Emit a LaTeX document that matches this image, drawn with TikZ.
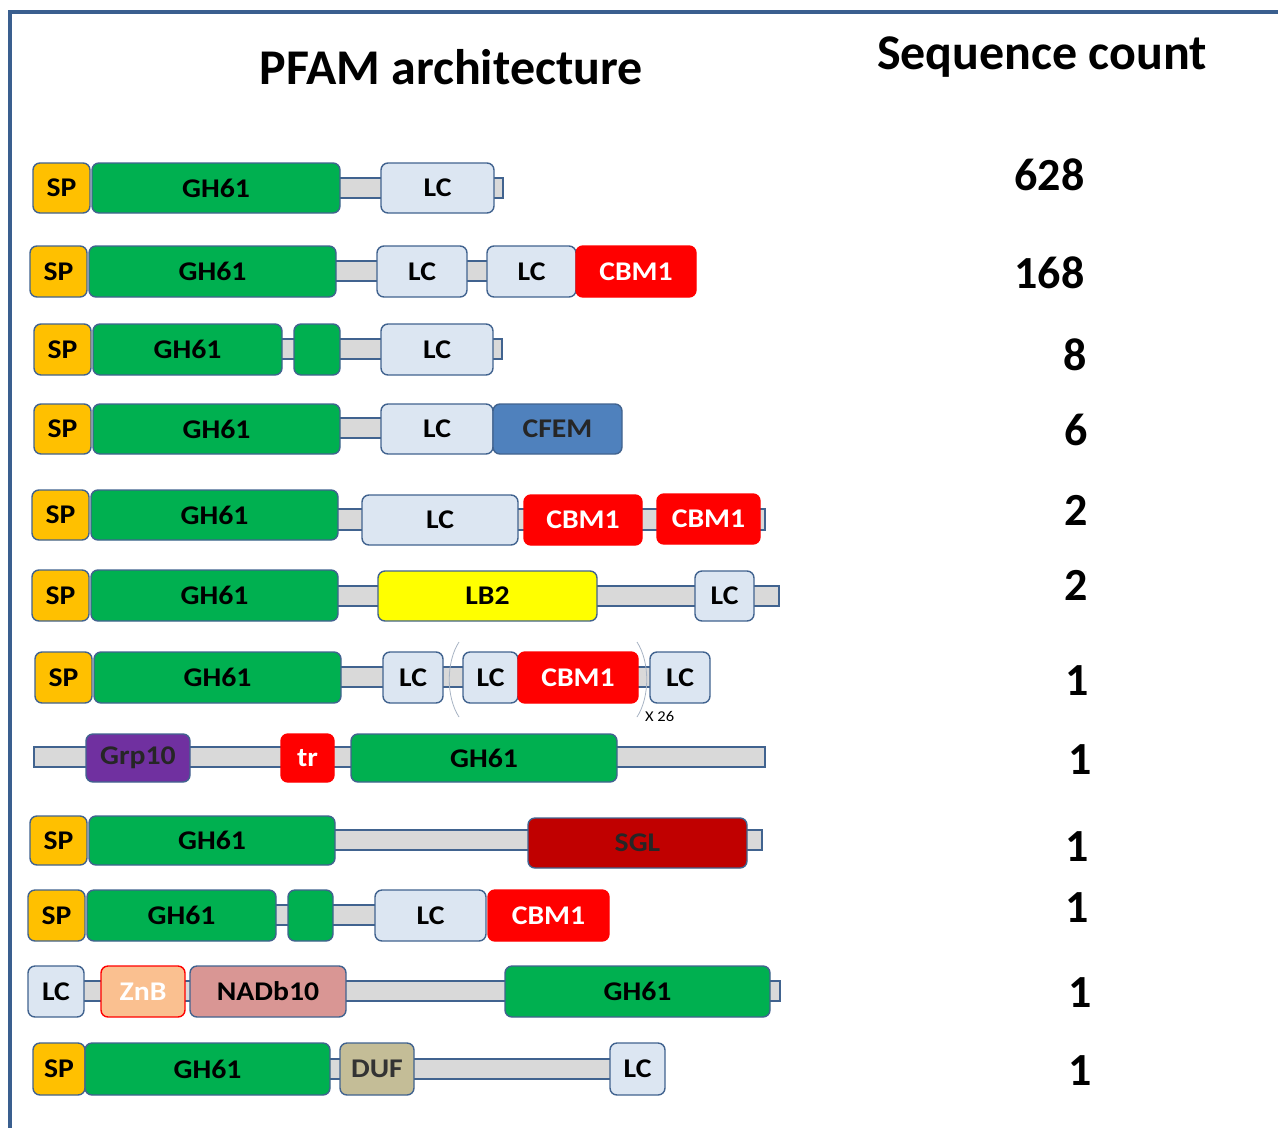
\documentclass[tikz,border=0pt]{standalone}
\usepackage{fontspec}
\setmainfont{Carlito}
\newfontfamily\labfont{Carlito}[FakeStretch=1.1]
\definecolor{frameblue}{HTML}{3A5F8F}
\definecolor{edge}{HTML}{41638F}
\definecolor{cSP}{HTML}{FFC000}
\definecolor{cGH}{HTML}{00B050}
\definecolor{cLC}{HTML}{DCE6F2}
\definecolor{cCBM}{HTML}{FF0000}
\definecolor{cCFEM}{HTML}{4F81BD}
\definecolor{cLB}{HTML}{FFFF00}
\definecolor{cGrp}{HTML}{7030A0}
\definecolor{cSGL}{HTML}{C00000}
\definecolor{cZnB}{HTML}{FAC090}
\definecolor{cNAD}{HTML}{D99694}
\definecolor{cDUF}{HTML}{C4BD97}
\definecolor{cBar}{HTML}{D9D9D9}
\definecolor{paren}{HTML}{A8B4C4}
\newcommand\dbox[7]{\node[#2, minimum width={(#4)-(#3)}, minimum height={(#6)-(#5)}] (#1) at ({((#3)+(#4))/2},{((#5)+(#6))/2}) {#7};}
\begin{document}
\begin{tikzpicture}[x=1pt,y=-1pt,
  dom/.style={draw=edge, line width=1.4pt, rounded corners=7pt, inner sep=0pt, outer sep=0pt,
     font=\labfont\fontsize{27}{27}\selectfont\bfseries, text=black},
  bar/.style={draw=edge, line width=1.2pt, fill=cBar, inner sep=0pt, outer sep=0pt},
  sp/.style={dom, fill=cSP},
  gh/.style={dom, fill=cGH},
  lc/.style={dom, fill=cLC},
  cbm/.style={dom, fill=cCBM, draw=cCBM, text=white},
  cfem/.style={dom, fill=cCFEM, text=black!85},
  lb/.style={dom, fill=cLB},
  grp/.style={dom, fill=cGrp, text=black!85},
  trd/.style={dom, fill=cCBM, draw=cCBM, text=white},
  sgl/.style={dom, fill=cSGL, text=black!85},
  znb/.style={dom, fill=cZnB, draw=cCBM, text=white},
  nad/.style={dom, fill=cNAD},
  duf/.style={dom, fill=cDUF, text=black!80},
  count/.style={anchor=east, font=\fontsize{46}{46}\selectfont\bfseries},
  title/.style={font=\fontsize{50}{50}\selectfont\bfseries}]
\useasboundingbox (0,0) rectangle (1278,1128);
\fill[white] (0,0) rectangle (1278,1128);
% frame
\coordinate (fTR) at (1278,12);
\coordinate (fTL) at (10,12);
\coordinate (fBL) at (10,1128);
\draw[frameblue, line width=3.5pt] (fTR) -- (fTL) -- (fBL);
% titles
\node[title] (tPfam) at (451,67) {PFAM architecture};
\node[title] (tSeq) at (1042,57) {Sequence count};
% Row 1
\dbox{r1bar}{bar}{335}{503}{178}{198}{}
\dbox{r1sp}{sp}{33}{90}{163}{213}{SP}
\dbox{r1gh}{gh}{92}{340}{163}{213}{GH61}
\dbox{r1lc}{lc}{381}{494}{163}{213}{LC}
\node[count] (c1) at (1088,175) {628};
% Row 2
\dbox{r2bar}{bar}{330}{580}{261}{281}{}
\dbox{r2sp}{sp}{30}{87}{246}{297}{SP}
\dbox{r2gh}{gh}{89}{336}{246}{297}{GH61}
\dbox{r2lca}{lc}{377}{467}{246}{297}{LC}
\dbox{r2lcb}{lc}{487}{576}{246}{297}{LC}
\dbox{r2cbm}{cbm}{576}{696}{246}{297}{CBM1}
\node[count] (c2) at (1088,273) {168};
% Row 3
\dbox{r3bar}{bar}{278}{502}{339}{359}{}
\dbox{r3sp}{sp}{34}{91}{324}{375}{SP}
\dbox{r3gh}{gh}{93}{282}{324}{375}{GH61}
\dbox{r3ghb}{gh}{294}{340}{324}{375}{}
\dbox{r3lc}{lc}{381}{493}{324}{375}{LC}
\node[count] (c3) at (1090,355) {8};
% Row 4
\dbox{r4bar}{bar}{335}{386}{418}{438}{}
\dbox{r4sp}{sp}{34}{91}{404}{454}{SP}
\dbox{r4gh}{gh}{93}{340}{404}{454}{GH61}
\dbox{r4lc}{lc}{381}{493}{404}{454}{LC}
\dbox{r4cfem}{cfem}{493}{622}{404}{454}{CFEM}
\node[count] (c4) at (1091,430) {6};
% Row 5
\dbox{r5bar}{bar}{334}{765}{509}{530}{}
\dbox{r5sp}{sp}{32}{89}{490}{540}{SP}
\dbox{r5gh}{gh}{91}{338}{490}{540}{GH61}
\dbox{r5lc}{lc}{362}{518}{495}{545}{LC}
\dbox{r5cbma}{cbm}{524}{642}{495}{545}{CBM1}
\dbox{r5cbmb}{cbm}{657}{760}{494}{544}{CBM1}
\node[count] (c5) at (1091,510) {2};
% Row 6
\dbox{r6bar}{bar}{334}{779}{586}{606}{}
\dbox{r6sp}{sp}{32}{89}{570}{621}{SP}
\dbox{r6gh}{gh}{91}{338}{570}{621}{GH61}
\dbox{r6lb}{lb}{378}{597}{571}{621}{LB2}
\dbox{r6lc}{lc}{695}{754}{571}{621}{LC}
\node[count] (c6) at (1091,585) {2};
% Row 7
\dbox{r7bar}{bar}{337}{655}{667}{687}{}
\dbox{r7sp}{sp}{35}{92}{652}{703}{SP}
\dbox{r7gh}{gh}{94}{341}{652}{703}{GH61}
\dbox{r7lca}{lc}{383}{443}{652}{703}{LC}
\dbox{r7lcb}{lc}{463}{518}{652}{703}{LC}
\dbox{r7cbm}{cbm}{518}{638}{652}{703}{CBM1}
\dbox{r7lcc}{lc}{650}{710}{652}{703}{LC}
\coordinate (pLa) at (459,642);
\coordinate (pLb) at (459,717);
\coordinate (pRa) at (637,642);
\coordinate (pRb) at (637,717);
\draw[paren, line width=0.8pt] (pLa) .. controls (446,662) and (446,697) .. (pLb);
\draw[paren, line width=0.8pt] (pRa) .. controls (650,662) and (650,697) .. (pRb);
\node[font=\labfont\fontsize{15}{15}\selectfont, anchor=west, inner sep=0pt] (x26) at (645,716) {X 26};
\node[count] (c7) at (1092,681) {1};
% Row 8
\dbox{r8bar}{bar}{34}{765}{747}{767}{}
\dbox{r8grp}{grp}{86}{190}{734}{782}{Grp10}
\dbox{r8tr}{trd}{281}{334}{734}{782}{tr}
\dbox{r8gh}{gh}{351}{617}{734}{782}{GH61}
\node[count] (c8) at (1095,760) {1};
% Row 9
\dbox{r9bar}{bar}{330}{762}{830}{850}{}
\dbox{r9sp}{sp}{30}{87}{816}{865}{SP}
\dbox{r9gh}{gh}{89}{335}{816}{865}{GH61}
\dbox{r9sgl}{sgl}{528}{747}{818}{868}{SGL}
\node[count] (c9) at (1092,847) {1};
% Row 10
\dbox{r10bar}{bar}{271}{380}{905}{925}{}
\dbox{r10sp}{sp}{28}{85}{890}{941}{SP}
\dbox{r10gh}{gh}{87}{276}{890}{941}{GH61}
\dbox{r10ghb}{gh}{288}{333}{890}{941}{}
\dbox{r10lc}{lc}{375}{486}{890}{941}{LC}
\dbox{r10cbm}{cbm}{488}{609}{890}{941}{CBM1}
\node[count] (c10) at (1092,908) {1};
% Row 11
\dbox{r11bar}{bar}{80}{780}{981}{1001}{}
\dbox{r11lc}{lc}{28}{84}{966}{1017}{LC}
\dbox{r11znb}{znb}{101}{185}{966}{1017}{ZnB}
\dbox{r11nad}{nad}{190}{346}{966}{1017}{NADb10}
\dbox{r11gh}{gh}{505}{770}{966}{1017}{GH61}
\node[count] (c11) at (1095,993) {1};
% Row 12
\dbox{r12bar}{bar}{328}{615}{1059}{1079}{}
\dbox{r12sp}{sp}{33}{85}{1043}{1095}{SP}
\dbox{r12gh}{gh}{85}{330}{1043}{1095}{GH61}
\dbox{r12duf}{duf}{340}{414}{1043}{1095}{DUF}
\dbox{r12lc}{lc}{610}{665}{1043}{1095}{LC}
\node[count] (c12) at (1095,1071) {1};
\end{tikzpicture}
\end{document}
